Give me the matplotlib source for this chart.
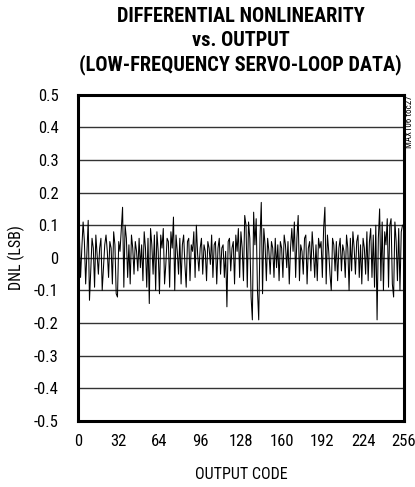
import numpy as np
import matplotlib
matplotlib.use("Agg")
import matplotlib.pyplot as plt
from matplotlib import font_manager as fm

# DNL, one value per output code (0..255)
dnl = [
    0.04, 0.08, -0.06, 0.03, 0.11, 0.05, -0.08, 0.02, 0.115, -0.13, -0.04, 0.06, 0.03, -0.09, 0.07, 0.01,
    -0.05, 0.03, 0.06, -0.10, -0.03, 0.04, 0.07, 0.02, -0.06, 0.05, 0.03, -0.08, 0.08, 0.04, -0.11, -0.12,
    0.05, 0.02, 0.09, 0.155, -0.09, 0.10, 0.06, -0.06, 0.04, -0.08, 0.07, 0.03, -0.05, 0.05, 0.02, -0.04,
    0.06, -0.03, 0.04, -0.07, 0.08, 0.03, -0.09, 0.06, -0.14, 0.09, 0.04, -0.05, 0.07, -0.10, 0.08, 0.02,
    -0.11, 0.07, 0.03, 0.09, -0.08, -0.02, 0.06, 0.05, -0.09, 0.08, 0.03, 0.125, -0.10, 0.07, 0.02, -0.05,
    0.06, -0.08, 0.04, 0.07, -0.02, -0.09, 0.05, 0.06, -0.07, 0.04, 0.02, 0.08, -0.06, 0.10, 0.01, -0.04,
    0.03, 0.06, -0.05, 0.04, 0.02, -0.07, 0.05, 0.03, -0.02, 0.07, -0.06, 0.04, 0.05, -0.08, 0.03, 0.06,
    -0.05, 0.03, 0.04, -0.06, 0.02, -0.15, 0.05, 0.06, -0.04, 0.03, 0.05, -0.08, 0.07, 0.02, 0.09, -0.06,
    0.08, 0.03, -0.07, 0.13, 0.10, -0.09, 0.11, 0.06, -0.12, -0.19, 0.14, 0.04, 0.12, -0.10, -0.19, 0.06,
    0.17, -0.11, 0.09, 0.04, -0.07, 0.06, 0.02, -0.05, 0.05, 0.03, -0.06, 0.06, -0.03, 0.04, -0.07, 0.05,
    0.03, -0.06, 0.07, 0.04, -0.03, 0.05, -0.08, 0.03, 0.09, 0.02, 0.11, -0.06, 0.06, 0.13, -0.07, 0.04,
    0.02, -0.05, 0.06, 0.07, -0.08, 0.03, 0.05, -0.04, 0.08, 0.02, -0.06, 0.04, -0.07, 0.06, 0.03, 0.05,
    -0.06, 0.09, 0.155, -0.08, 0.07, 0.02, -0.05, -0.10, 0.06, 0.04, -0.04, 0.05, -0.07, 0.03, 0.06, -0.04,
    0.04, 0.02, -0.06, 0.07, 0.03, -0.10, 0.06, -0.04, 0.08, 0.03, -0.05, 0.05, 0.07, -0.06, 0.04, -0.08,
    0.06, 0.03, -0.05, 0.08, -0.07, 0.05, 0.09, -0.06, 0.07, -0.09, 0.10, -0.19, 0.06, 0.15, -0.07, 0.11,
    -0.10, 0.08, 0.04, 0.12, -0.09, 0.10, 0.12, -0.08, -0.12, 0.11, 0.05, -0.07, 0.09, -0.10, 0.08, 0.10,
]
codes = np.arange(len(dnl))

x_ticks = [0, 32, 64, 96, 128, 160, 192, 224, 256]
y_ticks = [-0.5, -0.4, -0.3, -0.2, -0.1, 0, 0.1, 0.2, 0.3, 0.4, 0.5]
y_labels = ["-0.5", "-0.4", "-0.3", "-0.2", "-0.1", "0", "0.1", "0.2", "0.3", "0.4", "0.5"]

# look for a narrow font, the original uses a condensed Helvetica
fonts = fm.fontManager.ttflist
names = {f.name for f in fonts}
dv_cond = any(f.name == "DejaVu Sans" and "condensed" in str(f.stretch) for f in fonts)
narrow = None
for cand in ["Liberation Sans Narrow", "Roboto Condensed", "Open Sans Condensed"]:
    if cand in names:
        narrow = cand
        break
if narrow is not None:
    tick_font = dict(family=[narrow, "DejaVu Sans"])
elif dv_cond:
    tick_font = dict(family=["DejaVu Sans"], stretch="condensed")
else:
    tick_font = dict(family=["Liberation Sans", "DejaVu Sans"])

fig = plt.figure(figsize=(4.15, 4.87), dpi=100)
ax = fig.add_axes([0.188, 0.1355, 0.785, 0.67])

# horizontal grid lines
for yv in y_ticks[1:-1]:
    ax.axhline(yv, color="#333333", lw=1.0, zorder=1)

ax.plot(codes, dnl, color="black", lw=0.75, zorder=2)

ax.set_xlim(0, 256)
ax.set_ylim(-0.5, 0.5)
ax.set_xticks(x_ticks)
ax.set_xticklabels([str(t) for t in x_ticks], fontsize=12, **tick_font)
ax.set_yticks(y_ticks)
ax.set_yticklabels(y_labels, fontsize=12, **tick_font)
ax.tick_params(length=0, pad=14)
ax.tick_params(axis="x", pad=9)
for s in ax.spines.values():
    s.set_linewidth(2.2)
    s.set_color("black")

ax.set_xlabel("OUTPUT CODE", fontsize=11.5, labelpad=13, **tick_font)
ax.set_ylabel("DNL (LSB)", fontsize=11.5, labelpad=6, **tick_font)

title = "DIFFERENTIAL NONLINEARITY\nvs. OUTPUT\n(LOW-FREQUENCY SERVO-LOOP DATA)"
if narrow is not None:
    title_font = dict(family=[narrow, "DejaVu Sans"], fontsize=14.7)
elif dv_cond:
    title_font = dict(family=["DejaVu Sans"], stretch="condensed", fontsize=14)
else:
    title_font = dict(family=["Liberation Sans", "DejaVu Sans"], fontsize=12.5)
fig.text(0.58, 0.985, title, ha="center", va="top", fontweight="heavy",
         linespacing=1.3, **title_font)

fig.text(0.987, 0.805, "MAX106 toc27", rotation=90, ha="center", va="top",
         fontsize=6.5, **tick_font)

plt.savefig("out.png", dpi=100)
plt.close()
